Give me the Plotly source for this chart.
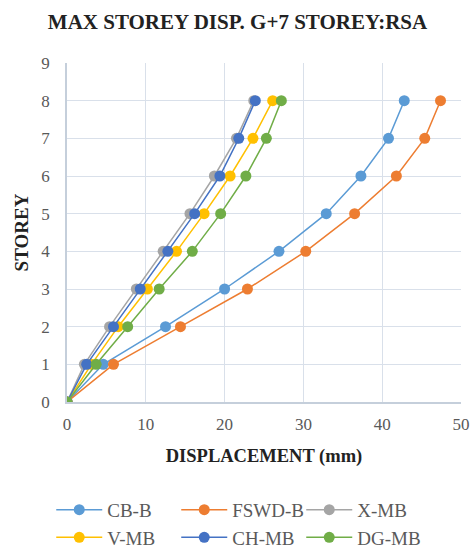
import plotly.graph_objects as go

# Storey levels and maximum displacement (mm) per structural system
storey = [0, 1, 2, 3, 4, 5, 6, 7, 8]
cb_b = [0, 4.6, 12.5, 20.0, 26.9, 32.9, 37.3, 40.8, 42.8]
fswd_b = [0, 5.9, 14.4, 22.9, 30.3, 36.5, 41.8, 45.4, 47.4]
x_mb = [0, 2.2, 5.4, 8.8, 12.2, 15.6, 18.7, 21.5, 23.7]
v_mb = [0, 3.1, 6.5, 10.2, 13.9, 17.4, 20.7, 23.6, 26.1]
ch_mb = [0, 2.5, 5.9, 9.3, 12.8, 16.2, 19.4, 21.8, 23.9]
dg_mb = [0, 3.7, 7.7, 11.7, 15.9, 19.5, 22.7, 25.3, 27.2]

series = [
    ("CB-B", cb_b, "#5B9BD5"),
    ("FSWD-B", fswd_b, "#ED7D31"),
    ("X-MB", x_mb, "#A5A5A5"),
    ("V-MB", v_mb, "#FFC000"),
    ("CH-MB", ch_mb, "#4472C4"),
    ("DG-MB", dg_mb, "#70AD47"),
]

serif = "Liberation Serif"
dark = "#222222"
grey = "#595959"

fig = go.Figure()
for name, vals, color in series:
    fig.add_trace(go.Scatter(
        x=vals, y=storey, name=name, mode="lines+markers",
        line=dict(color=color, width=1.5),
        marker=dict(color=color, size=11),
    ))

fig.update_layout(
    width=475, height=552,
    margin=dict(l=67, r=14, t=63, b=150, autoexpand=False),
    paper_bgcolor="white", plot_bgcolor="white",
    font=dict(family=serif, color=grey, size=17),
    title=dict(text="<b>MAX STOREY DISP. G+7 STOREY:RSA</b>",
               x=0.5, xanchor="center", y=1 - 22 / 552, yanchor="middle",
               font=dict(family=serif, size=21, color=dark)),
    xaxis=dict(
        range=[0, 50], dtick=10, showgrid=True, gridcolor="#D9E0EA", gridwidth=1,
        zeroline=False, showline=True, linecolor="#C5CFDB", linewidth=1.5,
        ticks="", ticklabelstandoff=6, fixedrange=True,
        tickfont=dict(family=serif, size=17, color=grey),
        title=dict(text="<b>DISPLACEMENT (mm)</b>", standoff=16,
                   font=dict(family=serif, size=18.5, color=dark)),
    ),
    yaxis=dict(
        range=[0, 9], dtick=1, showgrid=True, gridcolor="#D9E0EA", gridwidth=1,
        zeroline=False, showline=True, linecolor="#C5CFDB", linewidth=1.5,
        ticks="", ticklabelstandoff=12, fixedrange=True,
        tickfont=dict(family=serif, size=17, color=grey),
        title=dict(text="<b>STOREY</b>", standoff=8,
                   font=dict(family=serif, size=19, color=dark)),
    ),
    legend=dict(
        orientation="h", x=-0.04, xanchor="left", y=-0.262, yanchor="top",
        entrywidth=64, entrywidthmode="pixels", itemwidth=46,
        font=dict(family=serif, size=19, color=grey),
        tracegroupgap=0,
    ),
)

fig.write_html("out.html")
